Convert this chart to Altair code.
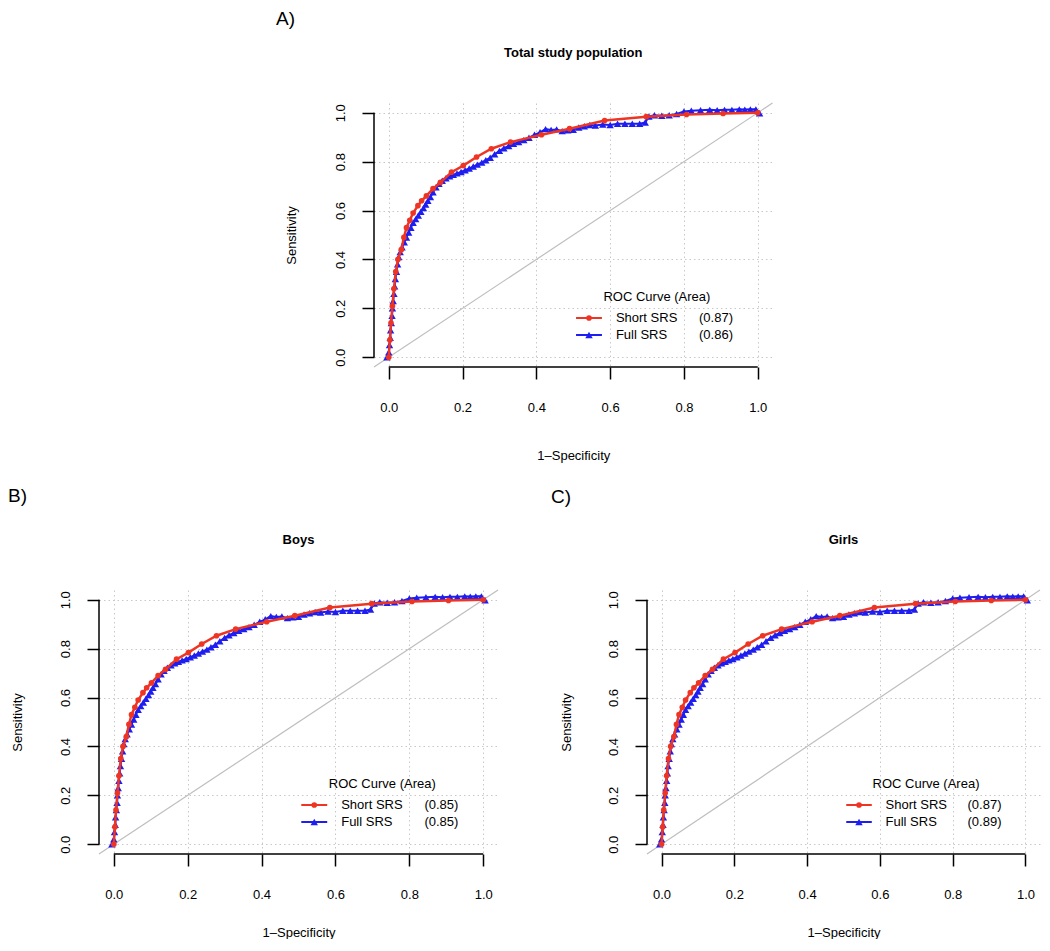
import altair as alt
import pandas as pd

# ---------------- data ----------------
SHORT_X = [0.000, 0.003, 0.006, 0.010, 0.014, 0.019, 0.025, 0.034, 0.041, 0.048,
           0.057, 0.066, 0.079, 0.089, 0.102, 0.120, 0.140, 0.170, 0.202, 0.238,
           0.278, 0.330, 0.414, 0.490, 0.585, 0.698, 0.807, 0.906, 1.000]
SHORT_Y = [0.000, 0.070, 0.140, 0.210, 0.280, 0.350, 0.400, 0.440, 0.490, 0.530,
           0.560, 0.590, 0.620, 0.640, 0.660, 0.690, 0.715, 0.757, 0.784, 0.819,
           0.853, 0.880, 0.910, 0.935, 0.968, 0.984, 0.993, 0.997, 1.000]

FULL_X = [-0.005, 0.000, 0.002, 0.004, 0.005, 0.007, 0.009, 0.010, 0.012, 0.014,
          0.016, 0.018, 0.021, 0.024, 0.027, 0.031, 0.036, 0.042, 0.048, 0.054,
          0.060, 0.066, 0.073, 0.080, 0.087, 0.094, 0.100, 0.106, 0.113, 0.120,
          0.128, 0.136, 0.145, 0.155, 0.165, 0.175, 0.185, 0.196, 0.207, 0.218,
          0.229, 0.240, 0.252, 0.263, 0.275, 0.287, 0.300, 0.312, 0.325, 0.338,
          0.352, 0.366, 0.380, 0.395, 0.410, 0.425, 0.440, 0.455, 0.470, 0.485,
          0.500, 0.515, 0.530, 0.545, 0.560, 0.580, 0.600, 0.620, 0.640, 0.660,
          0.680, 0.695, 0.705, 0.720, 0.740, 0.760, 0.780, 0.800, 0.820, 0.845,
          0.870, 0.890, 0.910, 0.930, 0.950, 0.965, 0.980, 0.995, 1.005]
FULL_Y = [0.000, 0.020, 0.050, 0.080, 0.110, 0.140, 0.170, 0.200, 0.230, 0.260,
          0.290, 0.320, 0.350, 0.380, 0.410, 0.430, 0.450, 0.470, 0.490, 0.510,
          0.530, 0.550, 0.565, 0.580, 0.595, 0.610, 0.625, 0.640, 0.655, 0.675,
          0.695, 0.710, 0.722, 0.732, 0.740, 0.746, 0.752, 0.758, 0.765, 0.772,
          0.780, 0.788, 0.796, 0.806, 0.816, 0.830, 0.844, 0.855, 0.864, 0.873,
          0.880, 0.888, 0.898, 0.910, 0.920, 0.933, 0.930, 0.932, 0.925, 0.928,
          0.930, 0.940, 0.945, 0.950, 0.948, 0.952, 0.950, 0.955, 0.955, 0.955,
          0.955, 0.960, 0.985, 0.990, 0.988, 0.990, 0.995, 1.005, 1.008, 1.010,
          1.012, 1.010, 1.012, 1.012, 1.014, 1.013, 1.014, 1.014, 0.998]

SERIES = ["Short SRS", "Full SRS"]
PANEL_TAGS = ["A)", "B)", "C)"]
PANEL_TITLES = ["Total study population", "Boys", "Girls"]
AUC_SHORT = [0.87, 0.85, 0.87]
AUC_FULL = [0.86, 0.85, 0.89]
TICKS = [0.0, 0.2, 0.4, 0.6, 0.8, 1.0]
LEGEND_TITLE = "ROC Curve (Area)"
X_TITLE = "1–Specificity"
Y_TITLE = "Sensitivity"

# ---------------- styling ----------------
RED = "#EE3524"
BLUE = "#1E1EF0"
FONT = "Liberation Sans"
H = 264


def txt(dummy, text, x, y, size=13, weight="normal", align="left"):
    return alt.Chart(dummy).mark_text(text=text, font=FONT, fontSize=size,
                                      fontWeight=weight, align=align,
                                      baseline="middle", color="black").encode(
        x=alt.value(x), y=alt.value(y))


def panel(i, W, tag_dx, tag_dy, xtitle_dy, ytitle_dx):
    short = pd.DataFrame({"x": SHORT_X, "y": SHORT_Y, "i": list(range(len(SHORT_X)))})
    full = pd.DataFrame({"x": FULL_X, "y": FULL_Y, "i": list(range(len(FULL_X)))})
    dummy = pd.DataFrame({"k": [0]})
    lo, hi = TICKS[0], TICKS[-1]
    pad = 0.04 * (hi - lo)
    xs = alt.Scale(domain=[lo - pad, hi + pad], nice=False, zero=False)
    ys = alt.Scale(domain=[lo - pad, hi + pad], nice=False, zero=False)

    common = dict(values=TICKS, format=".1f", grid=True, gridDash=[1.5, 3],
                  gridColor="#C8C8C8", gridWidth=1, domain=False, ticks=True,
                  tickSize=12, tickWidth=1.5, tickColor="black",
                  labelFont=FONT, labelFontSize=13, labelColor="black",
                  labelFlush=False, labelOverlap=False,
                  titleFont=FONT, titleFontSize=13, titleFontWeight="normal",
                  titleColor="black")
    xaxis = alt.Axis(title=X_TITLE, labelPadding=28, labelBaseline="middle",
                     labelAlign="center", titleX=W / 2, titleY=xtitle_dy,
                     titleBaseline="middle", titleAlign="center", **common)
    yaxis = alt.Axis(title=Y_TITLE, labelPadding=22, labelAngle=270,
                     labelAlign="center", labelBaseline="middle",
                     titleX=ytitle_dx, titleY=H / 2, titleAngle=270,
                     titleAlign="center", titleBaseline="middle", **common)

    diag = alt.Chart(dummy).mark_rule(color="#BEBEBE", strokeWidth=1.2).encode(
        x=alt.value(0), x2=alt.value(W), y=alt.value(H), y2=alt.value(0))
    xline = alt.Chart(dummy).mark_rule(color="black", strokeWidth=1.5).encode(
        x=alt.X(datum=lo, scale=xs), x2=alt.datum(hi), y=alt.value(H))
    yline = alt.Chart(dummy).mark_rule(color="black", strokeWidth=1.5).encode(
        y=alt.Y(datum=lo, scale=ys), y2=alt.datum(hi), x=alt.value(0))

    full_line = alt.Chart(full).mark_line(color=BLUE, strokeWidth=2).encode(
        x=alt.X("x:Q", scale=xs, axis=xaxis),
        y=alt.Y("y:Q", scale=ys, axis=yaxis),
        order="i:Q")
    full_pts = alt.Chart(full).mark_point(shape="triangle-up", filled=True, size=55,
                                          color=BLUE, opacity=1).encode(
        x="x:Q", y="y:Q")
    short_line = alt.Chart(short).mark_line(color=RED, strokeWidth=2.5).encode(
        x="x:Q", y="y:Q", order="i:Q")
    short_pts = alt.Chart(short).mark_point(shape="circle", filled=True, size=32,
                                            color=RED, opacity=1).encode(
        x="x:Q", y="y:Q")

    # legend (drawn manually, R style)
    lx0, lx1 = 0.507 * W, 0.572 * W
    lm = (lx0 + lx1) / 2
    ltx, lax = 0.607 * W, 0.8156 * W
    leg = [txt(dummy, LEGEND_TITLE, 0.71 * W, 194, align="center")]
    rows = [(SERIES[0], AUC_SHORT[i], RED, "circle", 32, 215),
            (SERIES[1], AUC_FULL[i], BLUE, "triangle-up", 55, 232)]
    for name, auc, col, shape, size, yy in rows:
        leg.append(alt.Chart(dummy).mark_rule(color=col, strokeWidth=2).encode(
            x=alt.value(lx0), x2=alt.value(lx1), y=alt.value(yy)))
        leg.append(alt.Chart(dummy).mark_point(shape=shape, filled=True, size=size,
                                               color=col, opacity=1).encode(
            x=alt.value(lm), y=alt.value(yy)))
        leg.append(txt(dummy, name, ltx, yy))
        leg.append(txt(dummy, f"({auc:.2f})", lax, yy))

    tag = txt(dummy, PANEL_TAGS[i], tag_dx, tag_dy, size=19)
    ttl = txt(dummy, PANEL_TITLES[i], W / 2, -50, weight="bold", align="center")

    return alt.layer(diag, full_line, full_pts, short_line, short_pts,
                     xline, yline, *leg, tag, ttl).properties(width=W, height=H)


top = panel(0, 398.5, -98, -84, 88, -83)
boys = panel(1, 399, -91, -94, 78, -82)
girls = panel(2, 393, -96, -93, 78, -81)

spacer = alt.Chart(pd.DataFrame({"k": [0]})).mark_text(text="").encode(
    x=alt.value(0), y=alt.value(0)).properties(width=275, height=H)

row1 = alt.hconcat(spacer, top, spacing=0, bounds="flush")
row2 = alt.hconcat(boys, girls, spacing=149, bounds="flush")

chart = alt.vconcat(row1, row2, spacing=25, bounds="full").properties(
    padding={"top": 2, "left": 0, "right": 0, "bottom": 0}
).configure(font=FONT).configure_view(strokeWidth=0)

chart.save("out.html", embed_options={"renderer": "svg", "actions": False})
